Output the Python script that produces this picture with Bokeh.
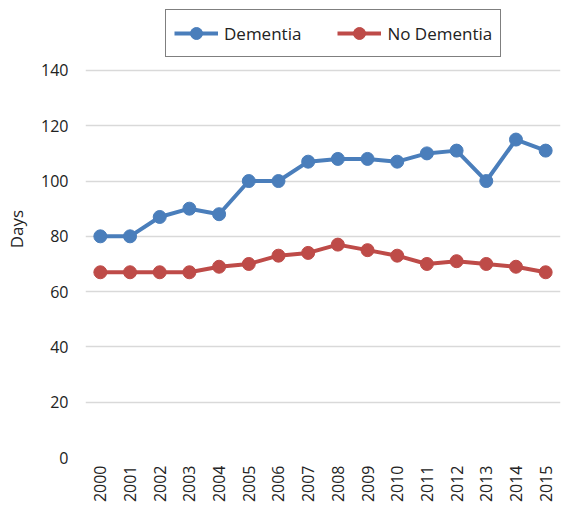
import math
from bokeh.plotting import figure
from bokeh.models import FactorRange, Range1d, Legend, LegendItem, ColumnDataSource, FixedTicker
from bokeh.embed import file_html
from bokeh.resources import INLINE

years = [str(y) for y in range(2000, 2016)]
dementia = [80, 80, 87, 90, 88, 100, 100, 107, 108, 108, 107, 110, 111, 100, 115, 111]
no_dementia = [67, 67, 67, 67, 69, 70, 73, 74, 77, 75, 73, 70, 71, 70, 69, 67]
y_ticks = [0, 20, 40, 60, 80, 100, 120, 140]

FONT = "Open Sans"
BLUE = "#4A7EBB"
RED = "#BE4B48"

# frame spans the legend area too; ticks/grid stop at 140
p = figure(width=561, height=508, x_range=FactorRange(*years), y_range=Range1d(0, 165.3),
           output_backend="svg", toolbar_location=None,
           min_border_left=85, min_border_right=1, min_border_top=0, min_border_bottom=51)
p.outline_line_color = None

src = ColumnDataSource(dict(x=years, d=dementia, n=no_dementia))
l1 = p.line("x", "d", source=src, line_color=BLUE, line_width=4)
s1 = p.scatter("x", "d", source=src, size=13, fill_color=BLUE, line_color=BLUE)
l2 = p.line("x", "n", source=src, line_color=RED, line_width=4)
s2 = p.scatter("x", "n", source=src, size=13, fill_color=RED, line_color=RED)

p.yaxis.ticker = FixedTicker(ticks=y_ticks)
p.yaxis.axis_line_color = None
p.yaxis.major_tick_line_color = None
p.yaxis.minor_tick_line_color = None
p.yaxis.major_tick_out = 0
p.yaxis.major_tick_in = 0
p.yaxis.major_label_text_font = FONT
p.yaxis.major_label_text_font_size = "16px"
p.yaxis.major_label_text_color = "#222222"
p.yaxis.major_label_standoff = 17
p.yaxis.axis_label = "Days"
p.yaxis.axis_label_text_font = FONT
p.yaxis.axis_label_text_font_size = "17px"
p.yaxis.axis_label_text_font_style = "normal"
p.yaxis.axis_label_text_color = "#222222"
p.yaxis.axis_label_standoff = 10

p.xaxis.axis_line_color = None
p.xaxis.major_tick_line_color = None
p.xaxis.minor_tick_line_color = None
p.xaxis.major_tick_out = 0
p.xaxis.major_tick_in = 0
p.xaxis.major_label_orientation = math.pi / 2
p.xaxis.major_label_text_font = FONT
p.xaxis.major_label_text_font_size = "16px"
p.xaxis.major_label_text_color = "#222222"
p.xaxis.major_label_standoff = 8

p.xgrid.grid_line_color = None
p.ygrid.grid_line_color = "#D9D9D9"
p.ygrid.grid_line_width = 1.5

legend = Legend(items=[LegendItem(label="Dementia", renderers=[l1, s1]),
                       LegendItem(label="No Dementia", renderers=[l2, s2])],
                location=(80, 400), orientation="horizontal",
                label_text_font=FONT, label_text_font_size="17px", label_text_color="#222222",
                border_line_color="#7F7F7F", border_line_width=1, border_line_alpha=1,
                glyph_width=44, glyph_height=30, label_standoff=6, spacing=36, padding=8, margin=0,
                background_fill_alpha=1)
p.add_layout(legend, "center")

open("out.html", "w").write(file_html(p, INLINE))
